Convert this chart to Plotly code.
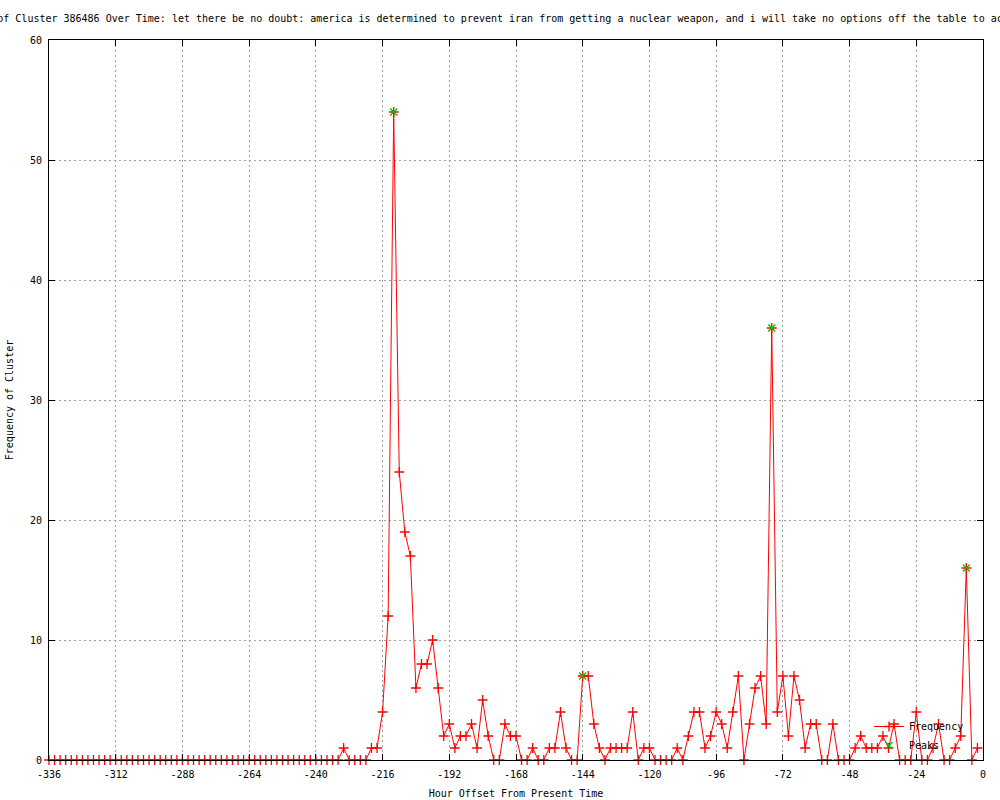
import plotly.graph_objects as go

# ---- data ----
hours = list(range(-336, 0, 2))  # sampling grid: every 2 hours from -336 to -2

frequency = [
    0, 0, 0, 0, 0, 0, 0, 0, 0, 0, 0, 0,        # -336 .. -314
    0, 0, 0, 0, 0, 0, 0, 0, 0, 0, 0, 0,        # -312 .. -290
    0, 0, 0, 0, 0, 0, 0, 0, 0, 0, 0, 0,        # -288 .. -266
    0, 0, 0, 0, 0, 0, 0, 0, 0, 0, 0, 0,        # -264 .. -242
    0, 0, 0, 0, 0, 1, 0, 0, 0, 0, 1, 1,        # -240 .. -218
    4, 12, 54, 24, 19, 17, 6, 8, 8, 10, 6, 2,  # -216 .. -194
    3, 1, 2, 2, 3, 1, 5, 2, 0, 0, 3, 2,        # -192 .. -170
    2, 0, 0, 1, 0, 0, 1, 1, 4, 1, 0, 0,        # -168 .. -146
    7, 7, 3, 1, 0, 1, 1, 1, 1, 4, 0, 1,        # -144 .. -122
    1, 0, 0, 0, 0, 1, 0, 2, 4, 4, 1, 2,        # -120 .. -98
    4, 3, 1, 4, 7, 0, 3, 6, 7, 3, 36, 4,       # -96 .. -74
    7, 2, 7, 5, 1, 3, 3, 0, 0, 3, 0, 0,        # -72 .. -50
    0, 1, 2, 1, 1, 1, 2, 1, 3, 0, 0, 0,        # -48 .. -26
    4, 0, 0, 1, 3, 0, 0, 1, 2, 16, 0, 1,       # -24 .. -2
]

peak_hours = [-212, -144, -76, -6]
peak_values = [54, 7, 36, 16]

x_tickvals = [-336, -312, -288, -264, -240, -216, -192, -168, -144, -120, -96, -72, -48, -24, 0]
x_ticktext = ["-336", "-312", "-288", "-264", "-240", "-216", "-192", "-168", "-144",
              "-120", "-96", "-72", "-48", "-24", "0"]
y_tickvals = [0, 10, 20, 30, 40, 50, 60]

title_text = ("Frequency of Cluster 386486 Over Time: let there be no doubt: america is determined "
              "to prevent iran from getting a nuclear weapon, and i will take no options off the "
              "table to achieve that")

FONT = "DejaVu Sans Mono"

fig = go.Figure()
fig.add_trace(go.Scatter(
    x=hours, y=frequency, mode="lines+markers", name="Frequency",
    line=dict(color="#ff0000", width=1),
    marker=dict(symbol="cross-thin", size=7, line=dict(color="#ff0000", width=1.3), color="#ff0000"),
    cliponaxis=False,
))
fig.add_trace(go.Scatter(
    x=peak_hours, y=peak_values, mode="markers", name="Peaks",
    marker=dict(symbol="x-thin", size=7, line=dict(color="#00c000", width=1.3), color="#00c000"),
    cliponaxis=False,
))

axis_common = dict(
    showline=True, linecolor="black", linewidth=1, mirror="ticks",
    ticks="inside", ticklen=6, tickcolor="black", tickwidth=1,
    showgrid=True, gridcolor="#a0a0a0", gridwidth=1, griddash="2px,3px",
    zeroline=False, automargin=False,
    tickfont=dict(family=FONT, size=10, color="black"),
)

fig.update_layout(
    width=1000, height=800,
    paper_bgcolor="white", plot_bgcolor="white",
    margin=dict(l=49, r=17, t=40, b=40),
    title=dict(text=title_text, x=0.5, xanchor="center", xref="container",
               y=1 - 18 / 800, yanchor="middle", yref="container",
               font=dict(family=FONT, size=10, color="black")),
    xaxis=dict(range=[-336, 0], tickvals=x_tickvals, ticktext=x_ticktext,
               ticklabelstandoff=5,
               title=dict(text="Hour Offset From Present Time", standoff=10,
                          font=dict(family=FONT, size=10, color="black")),
               **axis_common),
    yaxis=dict(range=[0, 60], tickvals=y_tickvals, ticklabelstandoff=4,
               title=dict(text="Frequency of Cluster", standoff=14,
                          font=dict(family=FONT, size=10, color="black")),
               **axis_common),
    showlegend=True,
    legend=dict(x=0.985, y=0.0, xanchor="right", yanchor="bottom",
                bgcolor="rgba(0,0,0,0)", borderwidth=0,
                font=dict(family=FONT, size=10, color="black"),
                itemwidth=30, tracegroupgap=0),
)

fig.write_html("out.html", config={"displayModeBar": False},
               post_script="document.body.style.margin='0px';")
